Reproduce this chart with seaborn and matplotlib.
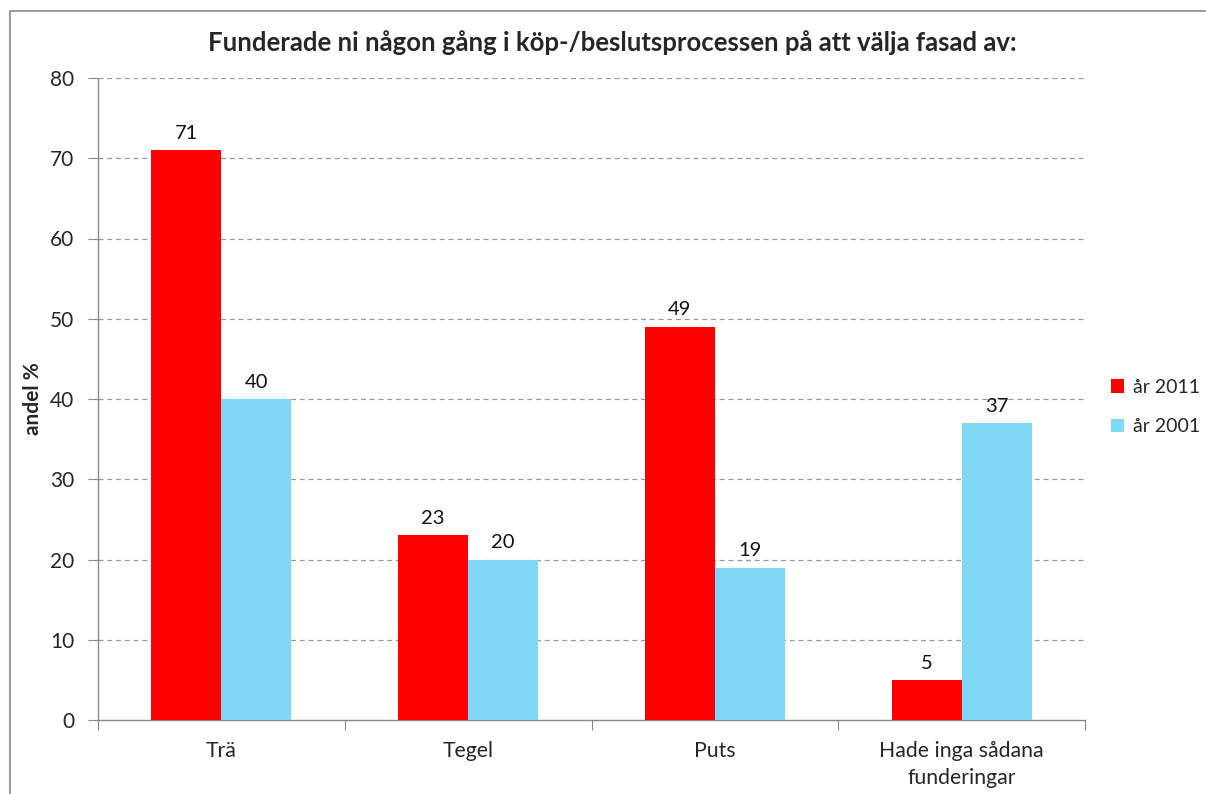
import matplotlib
matplotlib.use("Agg")
import matplotlib.pyplot as plt
import seaborn as sns
import pandas as pd
from matplotlib.patches import Rectangle, Patch

categories = ["Trä", "Tegel", "Puts", "Hade inga sådana\nfunderingar"]
series_names = ["år 2011", "år 2001"]
values_2011 = [71, 23, 49, 5]
values_2001 = [40, 20, 19, 37]
y_ticks = [0, 10, 20, 30, 40, 50, 60, 70, 80]

colors = ["#FF0000", "#80D8F7"]

df = pd.DataFrame({
    "kategori": categories * 2,
    "serie": [series_names[0]] * len(categories) + [series_names[1]] * len(categories),
    "andel": values_2011 + values_2001,
})

sns.set_style("white")
plt.rcParams["font.family"] = ["Lato", "DejaVu Sans"]

fig = plt.figure(figsize=(12.06, 7.94), dpi=100)
ax = fig.add_axes([98 / 1206, 1 - 720 / 794, (1085 - 98) / 1206, (720 - 78) / 794])

sns.barplot(data=df, x="kategori", y="andel", hue="serie", order=categories,
            hue_order=series_names, palette=colors, width=0.567, saturation=1,
            legend=False, ax=ax, zorder=3, linewidth=0, edgecolor="none")

for container in ax.containers:
    ax.bar_label(container, fmt="%d", padding=6, fontsize=14.5, color="#111111")

ax.set_ylim(0, 80)
ax.set_xlim(-0.5, len(categories) - 0.5)
ax.set_yticks(y_ticks)
ax.yaxis.grid(True, linestyle=(0, (4, 3)), color="#999999", linewidth=0.9, zorder=0)
ax.set_axisbelow(True)
for gl in ax.yaxis.get_gridlines()[:1]:
    gl.set_visible(False)

for side in ["top", "right"]:
    ax.spines[side].set_visible(False)
for side in ["left", "bottom"]:
    ax.spines[side].set_color("#888888")
    ax.spines[side].set_linewidth(1.0)

# category boundary ticks on the x axis, labels centred between them
ax.set_xticks([i - 0.5 for i in range(len(categories) + 1)])
ax.set_xticklabels([])
ax.set_xticks(range(len(categories)), minor=True)
ax.set_xticklabels(categories, minor=True, fontsize=15.3, linespacing=1.45)
ax.tick_params(axis="x", which="minor", length=0, pad=15)
ax.tick_params(axis="x", which="major", direction="out", length=7, color="#888888",
               bottom=True)
ax.tick_params(axis="y", direction="out", length=7, color="#888888", left=True,
               labelsize=15, pad=10)
ax.set_xlabel("")
ax.set_ylabel("andel %", fontsize=15, fontweight="bold", labelpad=5)

fig.text(612 / 1206, 1 - 43 / 794,
         "Funderade ni någon gång i köp-/beslutsprocessen på att välja fasad av:",
         fontsize=18.5, fontweight="bold", ha="center", va="center")

handles = [Patch(facecolor=c, edgecolor="none") for c in colors]
fig.legend(handles, series_names, loc="center left", bbox_to_anchor=(1093 / 1206, 1 - 407 / 794),
           frameon=False, fontsize=14, handlelength=0.7, handleheight=0.7,
           handletextpad=0.45, labelspacing=1.15)

fig.patches.append(Rectangle((10 / 1206, -0.1), 1.2, 1 - 11 / 794 + 0.1,
                             transform=fig.transFigure, fill=False,
                             edgecolor="#888888", linewidth=1.2))

fig.savefig("out.png", dpi=100, facecolor="white")
